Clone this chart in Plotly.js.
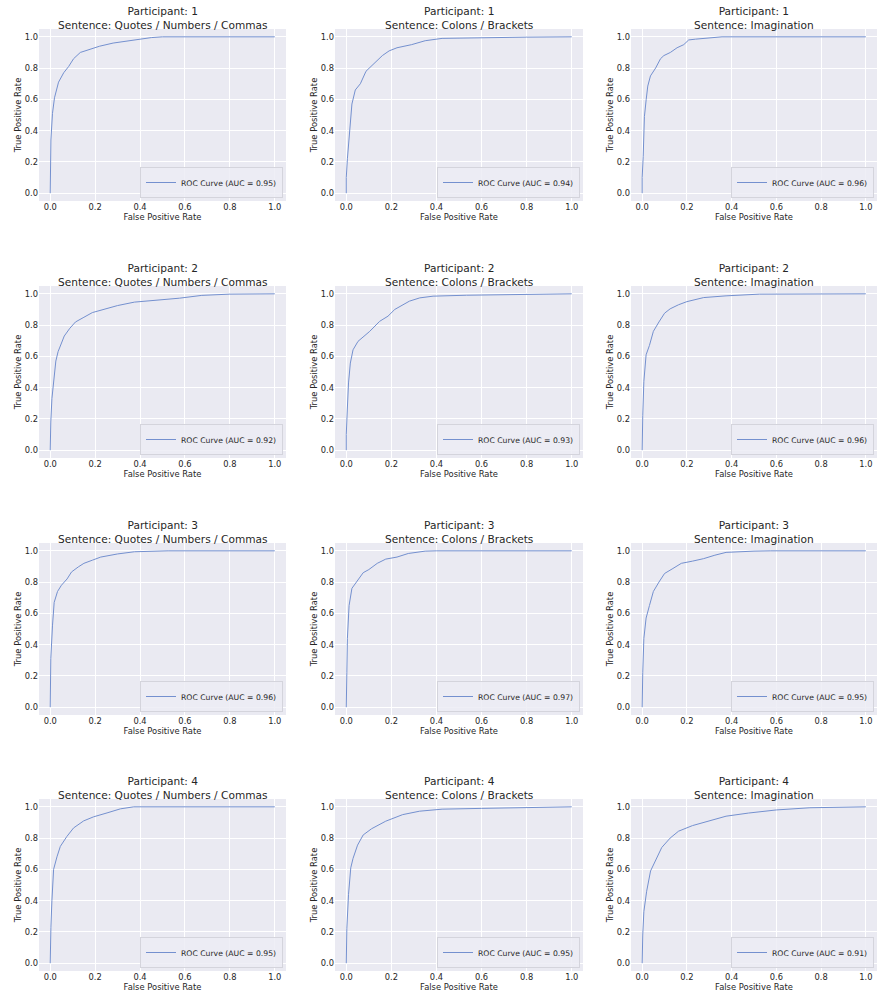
<!DOCTYPE html>
<html>
<head>
<meta charset="utf-8">
<script src="https://cdn.plot.ly/plotly-3.0.1.min.js"></script>
<style>html,body{margin:0;padding:0;background:#fff;}#chart{width:877px;height:994px;}</style>
</head>
<body>
<div id="chart"></div>
<script>
// ---- Data ----
const participants = [1, 2, 3, 4];
const sentences = ["Quotes / Numbers / Commas", "Colons / Brackets", "Imagination"];
const tickVals = [0, 0.2, 0.4, 0.6, 0.8, 1.0];

const auc_p1 = [0.95, 0.94, 0.96];
const auc_p2 = [0.92, 0.93, 0.96];
const auc_p3 = [0.96, 0.97, 0.95];
const auc_p4 = [0.95, 0.95, 0.91];

const fpr_p1_quotes = [0, 0, 0.003, 0.01, 0.019, 0.037, 0.06, 0.082, 0.104, 0.134, 0.18, 0.22, 0.28, 0.37, 0.45, 0.5, 1];
const tpr_p1_quotes = [0, 0.12, 0.34, 0.51, 0.61, 0.71, 0.77, 0.81, 0.86, 0.90, 0.92, 0.94, 0.96, 0.98, 0.995, 1, 1];
const fpr_p1_colons = [0, 0, 0.005, 0.0175, 0.025, 0.04, 0.0625, 0.0875, 0.125, 0.16, 0.19, 0.225, 0.29, 0.35, 0.425, 0.6, 0.8, 1];
const tpr_p1_colons = [0, 0.1, 0.22, 0.44, 0.57, 0.66, 0.70, 0.78, 0.83, 0.88, 0.91, 0.93, 0.95, 0.975, 0.99, 0.995, 0.998, 1];
const fpr_p1_imag = [0, 0, 0.0045, 0.01, 0.018, 0.025, 0.037, 0.06, 0.082, 0.097, 0.126, 0.156, 0.186, 0.208, 0.238, 0.297, 0.357, 1];
const tpr_p1_imag = [0, 0.1, 0.235, 0.49, 0.60, 0.685, 0.75, 0.80, 0.86, 0.88, 0.90, 0.93, 0.95, 0.98, 0.985, 0.994, 1, 1];

const fpr_p2_quotes = [0, 0, 0.0025, 0.0075, 0.0175, 0.025, 0.035, 0.05, 0.0625, 0.0875, 0.1125, 0.15, 0.1875, 0.2125, 0.3, 0.375, 0.45, 0.575, 0.675, 0.8, 1];
const tpr_p2_quotes = [0, 0.08, 0.18, 0.33, 0.48, 0.57, 0.63, 0.69, 0.73, 0.78, 0.82, 0.85, 0.88, 0.89, 0.925, 0.947, 0.955, 0.972, 0.99, 0.998, 1];
const fpr_p2_colons = [0, 0, 0.0045, 0.01, 0.018, 0.03, 0.052, 0.074, 0.104, 0.148, 0.185, 0.215, 0.244, 0.28, 0.326, 0.385, 0.533, 0.756, 0.8, 1];
const tpr_p2_colons = [0, 0.1, 0.257, 0.43, 0.557, 0.642, 0.696, 0.724, 0.76, 0.824, 0.857, 0.90, 0.925, 0.953, 0.974, 0.985, 0.991, 0.996, 1, 1];
const fpr_p2_imag = [0, 0, 0.0025, 0.0075, 0.0175, 0.0325, 0.05, 0.075, 0.1, 0.125, 0.1625, 0.2, 0.275, 0.375, 0.525, 1];
const tpr_p2_imag = [0, 0.1, 0.22, 0.44, 0.61, 0.67, 0.76, 0.82, 0.876, 0.904, 0.93, 0.95, 0.976, 0.987, 0.998, 1];

const fpr_p3_quotes = [0, 0, 0.0025, 0.01, 0.0175, 0.0325, 0.05, 0.075, 0.095, 0.125, 0.15, 0.1875, 0.225, 0.3, 0.375, 0.525, 1];
const tpr_p3_quotes = [0, 0.15, 0.31, 0.52, 0.67, 0.74, 0.78, 0.82, 0.865, 0.897, 0.92, 0.94, 0.96, 0.98, 0.994, 1, 1];
const fpr_p3_colons = [0, 0, 0.0025, 0.005, 0.0125, 0.025, 0.05, 0.075, 0.1, 0.1375, 0.175, 0.225, 0.275, 0.35, 0.4, 1];
const tpr_p3_colons = [0, 0.1, 0.22, 0.44, 0.65, 0.76, 0.81, 0.86, 0.88, 0.92, 0.947, 0.96, 0.983, 0.998, 1, 1];
const fpr_p3_imag = [0, 0, 0.0025, 0.0075, 0.0175, 0.0325, 0.05, 0.075, 0.1, 0.1375, 0.175, 0.225, 0.275, 0.325, 0.375, 0.5, 0.575, 1];
const tpr_p3_imag = [0, 0.1, 0.22, 0.44, 0.57, 0.65, 0.74, 0.80, 0.855, 0.887, 0.92, 0.934, 0.95, 0.972, 0.99, 0.998, 1, 1];

const fpr_p4_quotes = [0, 0, 0.003, 0.0075, 0.015, 0.03, 0.045, 0.074, 0.104, 0.149, 0.193, 0.253, 0.3125, 0.372, 1];
const tpr_p4_quotes = [0, 0.1, 0.23, 0.40, 0.60, 0.68, 0.747, 0.81, 0.865, 0.91, 0.936, 0.961, 0.987, 1, 1];
const fpr_p4_colons = [0, 0, 0.0025, 0.01, 0.02, 0.03, 0.05, 0.075, 0.1125, 0.175, 0.25, 0.325, 0.425, 0.6, 0.8, 1];
const tpr_p4_colons = [0, 0.1, 0.22, 0.44, 0.61, 0.67, 0.755, 0.82, 0.86, 0.908, 0.95, 0.972, 0.985, 0.99, 0.994, 1];
const fpr_p4_imag = [0, 0, 0.0025, 0.0075, 0.02, 0.0375, 0.0625, 0.0875, 0.125, 0.1625, 0.225, 0.3, 0.375, 0.475, 0.6, 0.75, 1];
const tpr_p4_imag = [0, 0.08, 0.18, 0.33, 0.46, 0.59, 0.67, 0.74, 0.80, 0.844, 0.88, 0.91, 0.94, 0.96, 0.98, 0.994, 1];

const fprs = [
  [fpr_p1_quotes, fpr_p1_colons, fpr_p1_imag],
  [fpr_p2_quotes, fpr_p2_colons, fpr_p2_imag],
  [fpr_p3_quotes, fpr_p3_colons, fpr_p3_imag],
  [fpr_p4_quotes, fpr_p4_colons, fpr_p4_imag]
];
const tprs = [
  [tpr_p1_quotes, tpr_p1_colons, tpr_p1_imag],
  [tpr_p2_quotes, tpr_p2_colons, tpr_p2_imag],
  [tpr_p3_quotes, tpr_p3_colons, tpr_p3_imag],
  [tpr_p4_quotes, tpr_p4_colons, tpr_p4_imag]
];
const aucs = [auc_p1, auc_p2, auc_p3, auc_p4];

// ---- Layout geometry (pixels) ----
const W = 877, H = 994;
const colLeft = [39, 335, 631];
const colRight = [286, 583, 877];
const rowTop = [29, 286, 543, 799];
const plotH = 172;
const textColor = "#262626";
const fontFam = "DejaVu Sans, sans-serif";
const lineColor = "#7490cf";

const traces = [];
const layout = {
  width: W, height: H,
  margin: {l: 0, r: 0, t: 0, b: 0},
  paper_bgcolor: "#ffffff",
  plot_bgcolor: "#EAEAF2",
  font: {family: fontFam, color: textColor, size: 8.3},
  annotations: [],
  showlegend: true
};

let k = 0;
for (let r = 0; r < 4; r++) {
  for (let c = 0; c < 3; c++) {
    k++;
    const xa = k === 1 ? "xaxis" : "xaxis" + k;
    const ya = k === 1 ? "yaxis" : "yaxis" + k;
    const lg = k === 1 ? "legend" : "legend" + k;
    const x0 = colLeft[c] / W, x1 = colRight[c] / W;
    const yTopPaper = 1 - rowTop[r] / H;
    const yBotPaper = 1 - (rowTop[r] + plotH) / H;
    traces.push({
      type: "scatter", mode: "lines",
      x: fprs[r][c], y: tprs[r][c],
      xaxis: k === 1 ? "x" : "x" + k,
      yaxis: k === 1 ? "y" : "y" + k,
      legend: lg,
      name: "ROC Curve (AUC = " + aucs[r][c].toFixed(2) + ")",
      line: {color: lineColor, width: 1},
      showlegend: true,
      hoverinfo: "skip"
    });
    const axCommon = {
      range: [-0.05, 1.05],
      tickvals: tickVals,
      tickformat: ".1f",
      showgrid: true, gridcolor: "#ffffff", gridwidth: 1,
      zeroline: false, showline: false,
      ticks: "",
      tickfont: {size: 8.3, color: textColor, family: fontFam},
      automargin: false,
      fixedrange: true
    };
    layout[xa] = Object.assign({}, axCommon, {
      domain: [x0, x1],
      anchor: k === 1 ? "y" : "y" + k,
      title: {text: "False Positive Rate", font: {size: 8.4, color: textColor, family: fontFam}, standoff: 1}
    });
    layout[ya] = Object.assign({}, axCommon, {
      domain: [yBotPaper, yTopPaper],
      anchor: k === 1 ? "x" : "x" + k,
      title: {text: "True Positive Rate", font: {size: 8.4, color: textColor, family: fontFam}, standoff: 1}
    });
    layout[lg] = {
      x: x1 - 3 / W, xanchor: "right", xref: "paper",
      y: yBotPaper + 3 / H, yanchor: "bottom", yref: "paper",
      bgcolor: "rgba(236,236,244,0.85)",
      bordercolor: "#d4d4dc", borderwidth: 1,
      font: {size: 7.7, color: textColor, family: fontFam},
      itemwidth: 30,
      tracegroupgap: 0
    };
    const xc = (x0 + x1) / 2;
    layout.annotations.push({
      text: "Participant: " + participants[r] + "<br>Sentence: " + sentences[c],
      x: xc, y: yTopPaper, xref: "paper", yref: "paper",
      xanchor: "center", yanchor: "bottom", yshift: -3.5, showarrow: false,
      align: "center",
      font: {size: 10.6, color: textColor, family: fontFam}
    });
  }
}

Plotly.newPlot("chart", traces, layout, {staticPlot: true, displayModeBar: false});
</script>
</body>
</html>
